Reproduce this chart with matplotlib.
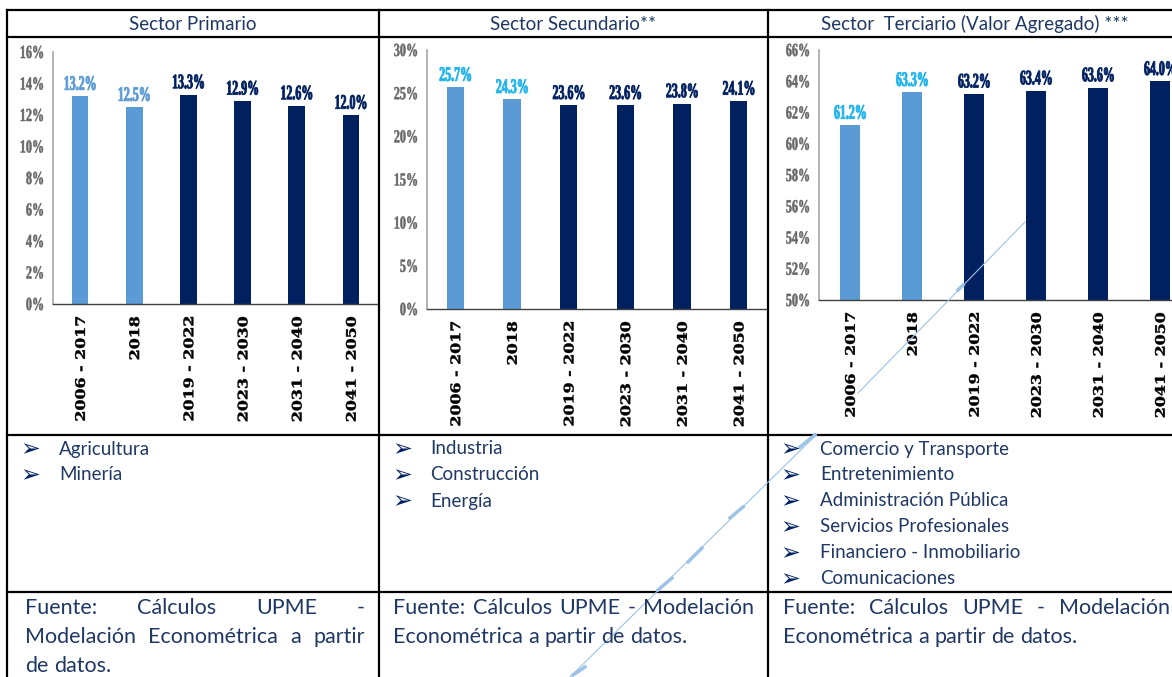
import matplotlib
matplotlib.use("Agg")
import matplotlib.pyplot as plt
from matplotlib.lines import Line2D
from matplotlib.patches import PathPatch
from matplotlib.textpath import TextPath
from matplotlib.transforms import Affine2D
from matplotlib.font_manager import FontProperties

# datos
categorias = ["2006 - 2017", "2018", "2019 - 2022", "2023 - 2030", "2031 - 2040", "2041 - 2050"]
primario = [13.2, 12.5, 13.3, 12.9, 12.6, 12.0]
secundario = [25.7, 24.3, 23.6, 23.6, 23.8, 24.1]
terciario = [61.2, 63.3, 63.2, 63.4, 63.6, 64.0]
historicos = 2  # los dos primeros periodos son históricos

titulos = ["Sector Primario", "Sector Secundario**", "Sector  Terciario (Valor Agregado) ***"]
bullets_primario = ["Agricultura", "Minería"]
bullets_secundario = ["Industria", "Construcción", "Energía"]
bullets_terciario = ["Comercio y Transporte", "Entretenimiento", "Administración Pública",
                     "Servicios Profesionales", "Financiero - Inmobiliario", "Comunicaciones"]
fuente_1 = ["Fuente: Cálculos UPME -", "Modelación Econométrica a partir", "de datos."]
fuente_2 = ["Fuente: Cálculos UPME - Modelación", "Econométrica a partir de datos."]
fuente_3 = ["Fuente: Cálculos UPME - Modelación", "Econométrica a partir de datos."]

# colores
AZUL_CLARO = "#5B9BD5"
AZUL_OSCURO = "#002060"
CIAN = "#1FB4EE"
TEXTO = "#1F3864"
GRIS = "#666666"

W, H = 1172, 677
DPI = 100
fig = plt.figure(figsize=(W / DPI, H / DPI), dpi=DPI)

LIGERA = ["Lato", "DejaVu Sans"]
SERIF_B = FontProperties(family="Liberation Serif", weight="bold")
XLAB = FontProperties(family="DejaVu Serif", weight="bold")


def fx(x):
    return x / W


def fy(y):
    return 1 - y / H


def linea(x0, y0, x1, y1, **kw):
    fig.add_artist(Line2D([fx(x0), fx(x1)], [fy(y0), fy(y1)], transform=fig.transFigure, **kw))


def texto_path(s, px, py, alto, cond, prop, color, ha="center", va="center", rot=0, grosor=0.0):
    # texto como trazo, con ancho condensado o expandido (px, py en pixeles de pantalla)
    tp = TextPath((0, 0), s, size=10, prop=prop)
    bb = tp.get_extents()
    dx = {"center": -(bb.x0 + bb.x1) / 2, "left": -bb.x0, "right": -bb.x1}[ha]
    dy = {"center": -(bb.y0 + bb.y1) / 2, "bottom": -bb.y0, "top": -bb.y1}[va]
    k = alto / bb.height
    tr = Affine2D().translate(dx, dy).scale(k * cond, k).rotate_deg(rot).translate(px, py)
    fig.add_artist(PathPatch(tp, transform=tr, facecolor=color, edgecolor=color,
                             lw=grosor, joinstyle="round"))


# tabla
borde = dict(color="black", lw=1.6)
linea(7, 10, 1172, 10, **borde)
linea(7, 37, 1172, 37, **borde)
linea(7, 435, 1172, 435, **borde)
linea(7, 592, 1172, 592, **borde)
for xv in [7, 379, 768]:
    linea(xv, 10, xv, 677, **borde)

# encabezados
for t, xc in zip(titulos, [193, 573, 975]):
    fig.text(fx(xc), fy(24), t, ha="center", va="center", fontsize=13.5,
             family=LIGERA, color=TEXTO)


def grafica(rect, valores, ymin, ymax, paso, color_hist):
    l, t, r, b = rect
    ax = fig.add_axes([fx(l), fy(b), (r - l) / W, (b - t) / H])
    x = list(range(len(categorias)))
    colores = [AZUL_CLARO if i < historicos else AZUL_OSCURO for i in x]
    ax.bar(x, valores, width=0.31, color=colores, zorder=2)
    ax.set_xlim(-0.5, len(categorias) - 0.5)
    ax.set_ylim(ymin, ymax)
    ax.set_yticks(list(range(ymin, ymax + 1, paso)))
    ax.set_xticks(x)
    ax.tick_params(length=0, labelleft=False, labelbottom=False)
    ax.spines["top"].set_visible(False)
    ax.spines["right"].set_visible(False)
    ax.spines["left"].set_color("#A6A6A6")
    ax.spines["left"].set_linewidth(1.2)
    ax.spines["bottom"].set_color("#404040")
    ax.spines["bottom"].set_linewidth(1.0)
    ax.patch.set_alpha(0)

    td = ax.transData
    x_eje, y_eje = td.transform((-0.5, ymin))
    # etiquetas del eje y
    for v in ax.get_yticks():
        _, py = td.transform((0, v))
        texto_path(f"{v:.0f}%", x_eje - 10, py, 12.5, 0.66, SERIF_B, GRIS, ha="right", grosor=0.35)
    # etiquetas de categorias
    for i, c in zip(ax.get_xticks(), categorias):
        px, _ = td.transform((i, ymin))
        texto_path(c, px, y_eje - 13, 10, 1.2, XLAB, "black", ha="right", rot=90, grosor=0.3)
    # etiquetas de datos
    for i, v in enumerate(valores):
        px, py = td.transform((i, v))
        col = color_hist if i < historicos else AZUL_OSCURO
        texto_path(f"{v:.1f}%", px, py + 6, 14, 0.58, SERIF_B, col, va="bottom", grosor=0.6)
    return ax


grafica((53, 52, 378, 304), primario, 0, 16, 2, AZUL_CLARO)
grafica((427, 50, 767, 309), secundario, 0, 30, 5, CIAN)
grafica((819, 50, 1191, 300), terciario, 50, 66, 2, CIAN)

# viñetas
for items, xb, xt in [(bullets_primario, 30, 59), (bullets_secundario, 402, 430),
                      (bullets_terciario, 790, 820)]:
    for k, item in enumerate(items):
        yy = 449 + 26 * k
        fig.text(fx(xb), fy(yy), "\u27a2", ha="center", va="center", fontsize=17,
                 family=["DejaVu Sans"], color=AZUL_OSCURO)
        fig.text(fx(xt), fy(yy), item, ha="left", va="center", fontsize=13.5,
                 family=LIGERA, color=TEXTO)

# fuente (texto justificado)
renderer = fig.canvas.get_renderer()
FS = 15.5


def ancho(s):
    t = fig.text(0, 0, s, fontsize=FS, family=LIGERA)
    w = t.get_window_extent(renderer).width
    t.remove()
    return w


def justificado(lineas, x0, x1, y0, paso=29):
    sp = ancho("a b") - ancho("ab")
    for k, ln in enumerate(lineas):
        yy = fy(y0 + paso * k)
        palabras = ln.split()
        textos = [fig.text(fx(x0), yy, p, ha="left", va="center", fontsize=FS,
                           family=LIGERA, color=TEXTO) for p in palabras]
        anchos = [t.get_window_extent(renderer).width for t in textos]
        if k == len(lineas) - 1 or len(palabras) == 1:
            gap = sp
        else:
            gap = (x1 - x0 - sum(anchos)) / (len(palabras) - 1)
        xx = x0
        for t, w in zip(textos, anchos):
            t.set_x(fx(xx))
            xx += w + gap


justificado(fuente_1, 25, 365, 608)
justificado(fuente_2, 393, 754, 608)
justificado(fuente_3, 783, 1170, 608)

# trazo diagonal
trazo = dict(color="#9DC3E6", lw=0.8)
linea(570, 677, 815, 436, **trazo)
linea(858, 393, 1025, 222, **trazo)
gruesos = [(573, 675, 585, 667), (658, 590, 672, 578), (688, 562, 702, 548),
           (730, 518, 743, 507), (800, 447, 815, 435), (958, 290, 963, 285)]
for seg in gruesos:
    linea(*seg, color="#9DC3E6", lw=2.5)

fig.savefig("out.png", dpi=DPI)
